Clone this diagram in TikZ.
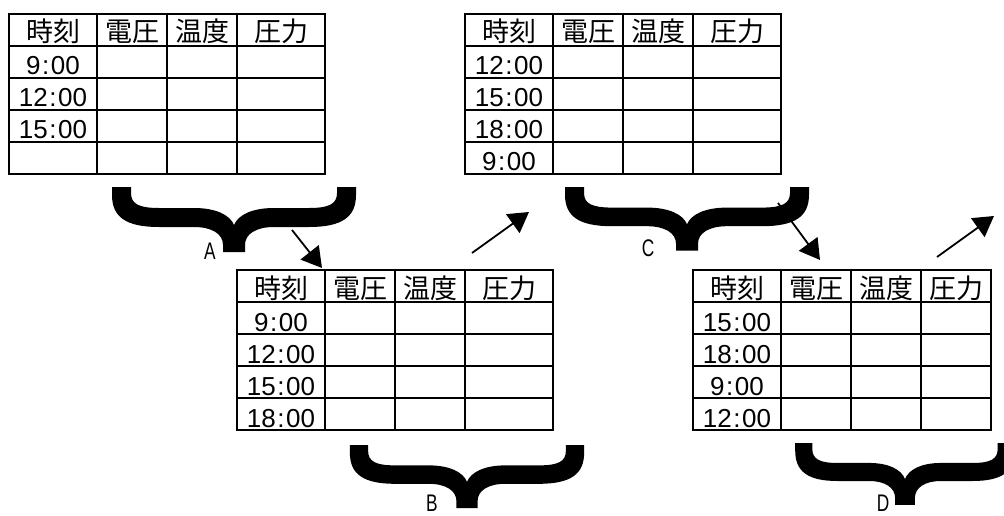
\documentclass[tikz,border=0pt]{standalone}
\usepackage{fontspec}
\setmainfont{Liberation Sans}
\newfontfamily\jpfont{Noto Sans CJK JP}
\usetikzlibrary{arrows.meta}

\newcommand{\halfbrace}[1]{%
  \fill[#1] (-122,0) -- (-103,0) -- (-103,6)
    .. controls (-103,17) and (-95,21) .. (-75,21) -- (-40,21)
    .. controls (-18,21) and (-4,28) .. (0,38) -- (0,65) -- (-11,65) -- (-11,58)
    .. controls (-11,47) and (-22,40) .. (-40,40) -- (-75,40)
    .. controls (-108,40) and (-122,30) .. (-122,8) -- cycle;}
\newcommand{\clk}[2]{#1\kern1.5pt:\kern1.5pt#2}

\begin{document}
\begin{tikzpicture}[x=1pt, y=-1pt,
    grid/.style={line width=2.6pt, line cap=rect},
    hd/.style={anchor=base, inner sep=0pt, font=\jpfont\fontsize{27}{27}\selectfont},
    tm/.style={anchor=base, inner sep=0pt, font=\fontsize{26}{26}\selectfont},
    lbl/.style={inner sep=0pt, xscale=0.72, font=\fontsize{24}{24}\selectfont},
    flow/.style={line width=1.8pt, -{Triangle[length=20pt, width=23pt]}}]
    \useasboundingbox (0,0) rectangle (1004,516);
    \clip (0,0) rectangle (1004,516);

    \foreach \tx/\ty/\tw/\tname in {9/14/88/A, 237/270/88/B, 465/14/88/C, 693/270/70/D}{
        \foreach \r in {0,...,5}
            \draw[grid] (\tx,\ty+32*\r) -- ++(228+\tw,0);
        \foreach \c in {0,88,158,228}
            \draw[grid] (\tx+\c,\ty) -- ++(0,160);
        \draw[grid] (\tx+228+\tw,\ty) -- ++(0,160);
        \node[hd] (\tname-h1) at (\tx+44,\ty+28) {時刻};
        \node[hd] (\tname-h2) at (\tx+123,\ty+28) {電圧};
        \node[hd] (\tname-h3) at (\tx+193,\ty+28) {温度};
        \node[hd] (\tname-h4) at (\tx+228+\tw/2,\ty+28) {圧力};
    }

    \foreach \t [count=\i] in {9,12,15}
        \node[tm] (A-t\i) at (53,14+32*\i+29) {\clk{\t}{00}};
    \foreach \t [count=\i] in {9,12,15,18}
        \node[tm] (B-t\i) at (281,270+32*\i+29) {\clk{\t}{00}};
    \foreach \t [count=\i] in {12,15,18,9}
        \node[tm] (C-t\i) at (509,14+32*\i+29) {\clk{\t}{00}};
    \foreach \t [count=\i] in {15,18,9,12}
        \node[tm] (D-t\i) at (737,270+32*\i+29) {\clk{\t}{00}};

    \coordinate (a1s) at (292,230);
    \coordinate (a1e) at (322,268);
    \coordinate (a2s) at (472,253);
    \coordinate (a2e) at (529,212);
    \coordinate (a3s) at (778,203);
    \coordinate (a3e) at (820,260);
    \coordinate (a4s) at (937,257);
    \coordinate (a4e) at (994,216);
    \draw[flow] (a1s) -- (a1e);
    \draw[flow] (a2s) -- (a2e);
    \draw[flow] (a3s) -- (a3e);
    \draw[flow] (a4s) -- (a4e);

    \foreach \cx/\cy/\sx/\sy in {234/187/1/1, 467/445/0.96/0.97, 687/187/1/0.98, 905/443/0.9/0.95}{
        \begin{scope}[shift={(\cx,\cy)}, xscale=\sx, yscale=\sy]
            \halfbrace{}
            \halfbrace{xscale=-1}
        \end{scope}
    }

    \node[lbl] (lblA) at (210,251) {A};
    \node[lbl] (lblB) at (432,503) {B};
    \node[lbl] (lblC) at (648,248) {C};
    \node[lbl] (lblD) at (883,503) {D};
\end{tikzpicture}
\end{document}
